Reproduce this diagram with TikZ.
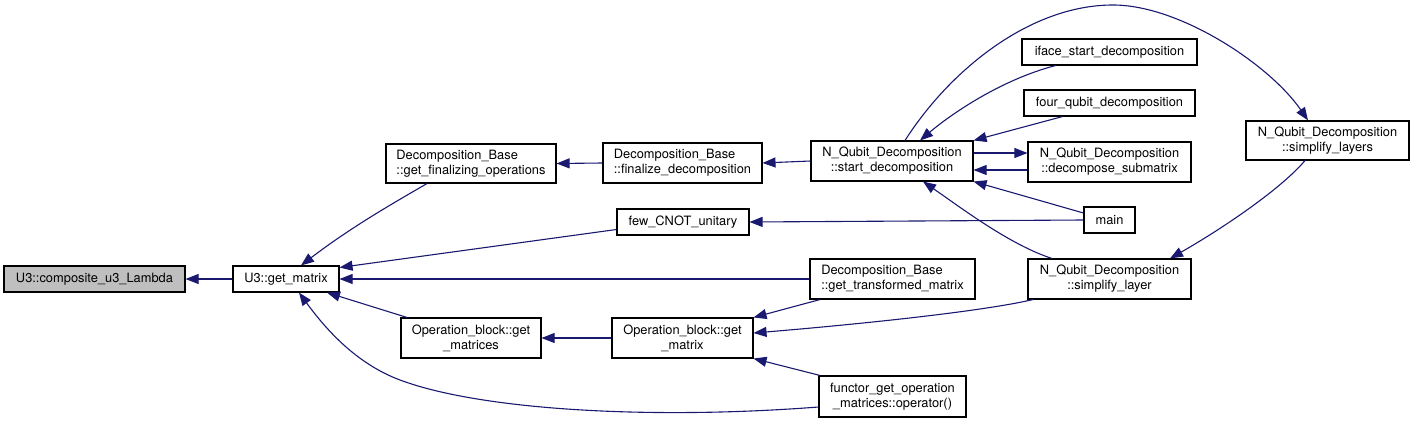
\documentclass[tikz,border=0pt]{standalone}
\usepackage{fontspec}
\setmainfont{TeX Gyre Heros}
\usetikzlibrary{arrows.meta}
\definecolor{edgecol}{HTML}{191970}
\definecolor{hl}{HTML}{BFBFBF}
\begin{document}
\begin{tikzpicture}[x=1pt,y=-1pt,
  box/.style={draw=black, line width=1.1pt, fill=white, inner sep=0pt,
    font=\fontsize{12.85}{15}\selectfont, align=center},
  e/.style={draw=edgecol, line width=1.1pt, >={Triangle[length=13pt,width=10pt]}, <-}]
\useasboundingbox (0,0) rectangle (1413,423);
% nodes
\node[box, fill=hl, minimum width=181pt, minimum height=26pt] (comp) at (94.5,279) {U3::composite\_u3\_Lambda};
\node[box, minimum width=106pt, minimum height=26pt] (getm) at (286,279) {U3::get\_matrix};
\node[box, align=left, minimum width=170pt, minimum height=39pt] (gfo) at (471,163.5) {Decomposition\_Base\\::get\_finalizing\_operations};
\node[box, align=left, minimum width=159pt, minimum height=40pt] (fd) at (682.5,163) {Decomposition\_Base\\::finalize\_decomposition};
\node[box, minimum width=132pt, minimum height=26pt] (few) at (683,222) {few\_CNOT\_unitary};
\node[box, minimum width=140pt, minimum height=40pt] (obms) at (471,338) {Operation\_block::get\\\_matrices};
\node[box, minimum width=141pt, minimum height=40pt] (obm) at (682.5,338) {Operation\_block::get\\\_matrix};
\node[box, minimum width=162pt, minimum height=40pt] (sd) at (892,161) {N\_Qubit\_Decomposition\\::start\_decomposition};
\node[box, minimum width=175pt, minimum height=26pt] (iface) at (1109.5,52) {iface\_start\_decomposition};
\node[box, minimum width=171pt, minimum height=26pt] (four) at (1109.5,103) {four\_qubit\_decomposition};
\node[box, minimum width=163pt, minimum height=40pt] (dsm) at (1109.5,162) {N\_Qubit\_Decomposition\\::decompose\_submatrix};
\node[box, minimum width=51pt, minimum height=26pt] (main) at (1109.5,220) {main};
\node[box, align=left, minimum width=165pt, minimum height=40pt] (gtm) at (892.5,279) {Decomposition\_Base\\::get\_transformed\_matrix};
\node[box, minimum width=163pt, minimum height=40pt] (sl) at (1109.5,279) {N\_Qubit\_Decomposition\\::simplify\_layer};
\node[box, minimum width=147pt, minimum height=41pt] (functor) at (892.5,396.5) {functor\_get\_operation\\\_matrices::operator()};
\node[box, minimum width=163pt, minimum height=39pt] (sls) at (1327.5,140.5) {N\_Qubit\_Decomposition\\::simplify\_layers};
% edges
\draw[e] (comp.east) -- (getm.west);
\draw[e] ([xshift=15pt]getm.north) .. controls (350,228) and (390,205) .. ([xshift=-44pt]gfo.south);
\draw[e] ([yshift=11.5pt]getm.east) -- ([yshift=-7.5pt]few.west);
\draw[e] (getm.east) -- (gtm.west);
\draw[e] ([xshift=41pt]getm.south) -- ([xshift=-64pt]obms.north);
\draw[e] ([xshift=13pt]getm.south) .. controls (330,335) and (360,365) .. (400,380)
  .. controls (480,410) and (650,420) .. ([yshift=-10.5pt]functor.west);
\draw[e] (gfo.east) -- (fd.west);
\draw[e] (fd.east) -- (sd.west);
\draw[e] (few.east) -- (main.west);
\draw[e] (obms.east) -- (obm.west);
\draw[e] (obm.north east) -- ([xshift=-72.5pt]gtm.south);
\draw[e] ([yshift=5pt]obm.east) .. controls (850,325) and (980,312) .. ([xshift=-76.5pt]sl.south);
\draw[e] (obm.south east) -- ([xshift=-72.5pt]functor.north);
\draw[e] ([xshift=28pt]sd.north) .. controls (950,115) and (1000,80) .. ([xshift=-54pt]iface.south);
\draw[e] (sd.north east) -- ([xshift=-47pt]four.south);
\draw[e] ([yshift=9pt]dsm.west) -- ([yshift=8pt]sd.east);
\draw[e] ([yshift=-9pt]sd.east) -- ([yshift=-8pt]dsm.west);
\draw[e] (sd.south east) -- ([yshift=7pt]main.west);
\draw[e] ([xshift=31pt]sd.south) .. controls (960,207) and (1010,245) .. ([xshift=-57.5pt]sl.north);
\draw[e] ([xshift=-19.5pt]sls.north) .. controls (1270,65) and (1180,5) .. (1113,5)
  .. controls (1030,5) and (950,70) .. ([xshift=13pt]sd.north);
\draw[e] ([xshift=60.5pt]sl.north) .. controls (1220,230) and (1280,190) .. ([xshift=-22.5pt]sls.south);
\end{tikzpicture}
\end{document}
